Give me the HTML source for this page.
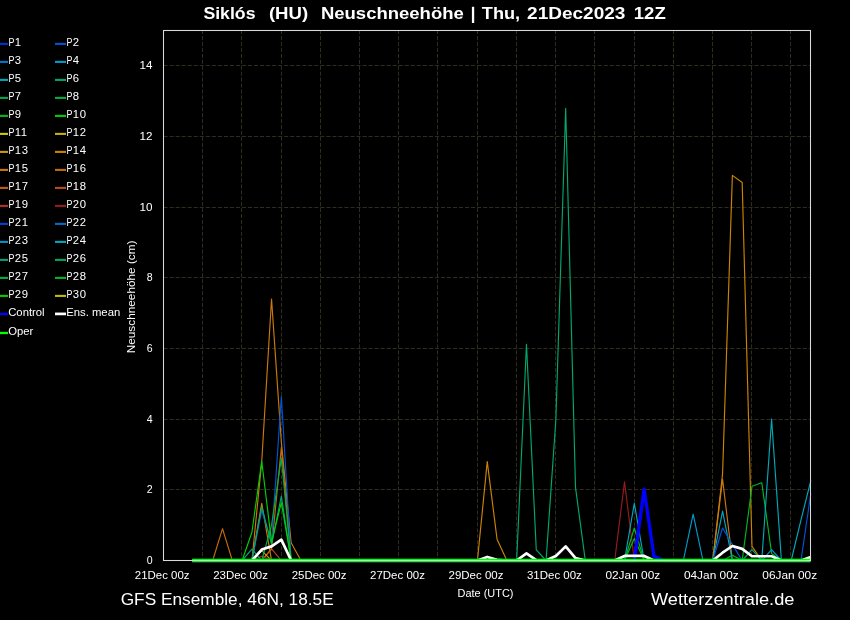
<!DOCTYPE html>
<html><head><meta charset="utf-8"><title>Neuschneehoehe</title>
<style>
html,body{margin:0;padding:0;background:#000;}
body{width:850px;height:620px;overflow:hidden;}
svg{display:block;will-change:transform;transform:translateZ(0);}
text{font-family:"Liberation Sans",sans-serif;fill:#fff;}
</style></head><body>
<svg width="850" height="620" viewBox="0 0 850 620">
<rect x="0" y="0" width="850" height="620" fill="#000"/>

<g stroke="#2e2c1e" stroke-width="1" stroke-dasharray="4.2 1.83" fill="none">
<line x1="202.50" y1="560.5" x2="202.50" y2="30.5" stroke-dasharray="4.13 1.8" stroke-dashoffset="1.5"/>
<line x1="241.50" y1="560.5" x2="241.50" y2="30.5" stroke-dasharray="4.13 1.8" stroke-dashoffset="1.5"/>
<line x1="281.50" y1="560.5" x2="281.50" y2="30.5" stroke-dasharray="4.13 1.8" stroke-dashoffset="1.5"/>
<line x1="320.50" y1="560.5" x2="320.50" y2="30.5" stroke-dasharray="4.13 1.8" stroke-dashoffset="1.5"/>
<line x1="359.50" y1="560.5" x2="359.50" y2="30.5" stroke-dasharray="4.13 1.8" stroke-dashoffset="1.5"/>
<line x1="398.50" y1="560.5" x2="398.50" y2="30.5" stroke-dasharray="4.13 1.8" stroke-dashoffset="1.5"/>
<line x1="437.50" y1="560.5" x2="437.50" y2="30.5" stroke-dasharray="4.13 1.8" stroke-dashoffset="1.5"/>
<line x1="477.50" y1="560.5" x2="477.50" y2="30.5" stroke-dasharray="4.13 1.8" stroke-dashoffset="1.5"/>
<line x1="516.50" y1="560.5" x2="516.50" y2="30.5" stroke-dasharray="4.13 1.8" stroke-dashoffset="1.5"/>
<line x1="555.50" y1="560.5" x2="555.50" y2="30.5" stroke-dasharray="4.13 1.8" stroke-dashoffset="1.5"/>
<line x1="594.50" y1="560.5" x2="594.50" y2="30.5" stroke-dasharray="4.13 1.8" stroke-dashoffset="1.5"/>
<line x1="634.50" y1="560.5" x2="634.50" y2="30.5" stroke-dasharray="4.13 1.8" stroke-dashoffset="1.5"/>
<line x1="673.50" y1="560.5" x2="673.50" y2="30.5" stroke-dasharray="4.13 1.8" stroke-dashoffset="1.5"/>
<line x1="712.50" y1="560.5" x2="712.50" y2="30.5" stroke-dasharray="4.13 1.8" stroke-dashoffset="1.5"/>
<line x1="751.50" y1="560.5" x2="751.50" y2="30.5" stroke-dasharray="4.13 1.8" stroke-dashoffset="1.5"/>
<line x1="790.50" y1="560.5" x2="790.50" y2="30.5" stroke-dasharray="4.13 1.8" stroke-dashoffset="1.5"/>
<line x1="163.5" y1="489.50" x2="810.5" y2="489.50"/>
<line x1="163.5" y1="419.50" x2="810.5" y2="419.50"/>
<line x1="163.5" y1="348.50" x2="810.5" y2="348.50"/>
<line x1="163.5" y1="277.50" x2="810.5" y2="277.50"/>
<line x1="163.5" y1="207.50" x2="810.5" y2="207.50"/>
<line x1="163.5" y1="136.50" x2="810.5" y2="136.50"/>
<line x1="163.5" y1="65.50" x2="810.5" y2="65.50"/>
</g>
<g fill="none" stroke-width="1.15" stroke-linejoin="round">
<polyline stroke="#c46c0c" points="212.71,560.50 222.51,528.70 232.32,560.50"/>
<polyline stroke="#cc780c" points="251.93,560.50 261.74,461.57 271.54,299.04 281.35,442.13 291.15,542.83 300.95,560.50"/>
<polyline stroke="#cc8400" points="251.93,560.50 261.74,503.26 271.54,560.50"/>
<polyline stroke="#bc4820" points="261.74,560.50 271.54,548.84 281.35,560.50"/>
<polyline stroke="#c46c0c" points="261.74,560.50 271.54,548.84 281.35,447.43 291.15,560.50"/>
<polyline stroke="#ca9a0c" points="251.93,560.50 261.74,550.61 271.54,560.50"/>
<polyline stroke="#b43020" points="251.93,560.50 261.74,556.26 271.54,560.50"/>
<polyline stroke="#0054d6" points="251.93,560.50 261.74,510.33 271.54,542.13 281.35,396.55 291.15,560.50"/>
<polyline stroke="#00a47c" points="242.12,560.50 251.93,549.19 261.74,560.50"/>
<polyline stroke="#00a86c" points="251.93,560.50 261.74,506.79 271.54,544.60 281.35,496.19 291.15,560.50"/>
<polyline stroke="#00b040" points="261.74,560.50 271.54,525.17 281.35,458.03 291.15,560.50"/>
<polyline stroke="#00d000" points="242.12,560.50 251.93,532.23 261.74,461.21 271.54,542.13 281.35,502.55 291.15,560.50"/>
<polyline stroke="#cc8400" points="477.44,560.50 487.25,461.57 497.05,539.30 506.86,560.50"/>
<polyline stroke="#00a86c" points="516.66,560.50 526.47,344.26 536.27,549.90 546.08,560.50 555.88,419.17 565.69,108.24 575.50,487.36 585.30,560.50"/>
<polyline stroke="#981c1c" points="614.72,560.50 624.52,481.71 634.32,560.50"/>
<polyline stroke="#00a8c0" points="624.52,560.50 634.32,503.26 644.13,560.50"/>
<polyline stroke="#00b820" points="624.52,560.50 634.32,527.99 644.13,560.50"/>
<polyline stroke="#00b828" points="624.52,560.50 634.32,538.59 644.13,560.50"/>
<polyline stroke="#009ccc" points="683.35,560.50 693.15,514.21 702.96,560.50"/>
<polyline stroke="#cc8400" points="712.76,560.50 722.57,473.93 732.38,175.37 742.18,182.44 751.99,546.37 761.79,560.50"/>
<polyline stroke="#cc780c" points="712.76,560.50 722.57,479.23 732.38,560.50"/>
<polyline stroke="#00a8c0" points="712.76,560.50 722.57,511.03 732.38,560.50"/>
<polyline stroke="#0054d6" points="712.76,560.50 722.57,527.99 732.38,544.60 742.18,560.50"/>
<polyline stroke="#00b820" points="722.57,560.50 732.38,555.20 742.18,560.50"/>
<polyline stroke="#00a47c" points="742.18,560.50 751.99,549.55 761.79,560.50"/>
<polyline stroke="#00b820" points="742.18,560.50 751.99,486.30 761.79,482.77 771.60,553.43 781.40,560.50"/>
<polyline stroke="#0094cc" points="761.79,560.50 771.60,549.55 781.40,560.50"/>
<polyline stroke="#00a8b8" points="761.79,560.50 771.60,419.17 781.40,560.50"/>
<polyline stroke="#00a8c0" points="791.21,560.50 801.01,519.87 810.82,480.65"/>
<polyline stroke="#0054d6" points="801.01,560.50 810.82,493.37"/>
</g>
<polyline fill="none" stroke="#0000ff" stroke-width="3.3" stroke-linejoin="round" points="193.10,560.50 634.32,560.50 644.13,489.13 653.93,556.26 663.74,560.50 810.82,560.50"/>
<polyline fill="none" stroke="#fff" stroke-width="2.7" stroke-linejoin="round" points="193.10,560.50 251.93,560.50 261.74,549.55 271.54,546.37 281.35,539.65 291.15,560.50 477.44,560.50 487.25,556.97 497.05,559.79 506.86,560.50 516.66,560.50 526.47,553.43 536.27,560.15 546.08,560.50 555.88,555.91 565.69,546.37 575.50,558.03 585.30,560.50 614.72,560.50 624.52,555.91 634.32,555.91 644.13,555.91 653.93,560.50 712.76,560.50 722.57,552.73 732.38,546.01 742.18,548.84 751.99,556.26 761.79,556.26 771.60,556.26 781.40,560.50 801.01,560.50 810.82,556.97"/>
<polyline fill="none" stroke="#00ff00" stroke-width="3.4" points="192.10,560.5 810.5,560.5"/>
<rect x="163.5" y="30.5" width="647.0" height="530.0" fill="none" stroke="#dadada" stroke-width="1.05"/>
<text x="203.4" y="18.9" font-size="17" text-anchor="start" font-weight="bold" textLength="52.1" lengthAdjust="spacingAndGlyphs">Siklós</text>
<text x="268.9" y="18.9" font-size="17" text-anchor="start" font-weight="bold" textLength="39.3" lengthAdjust="spacingAndGlyphs">(HU)</text>
<text x="320.9" y="18.9" font-size="17" text-anchor="start" font-weight="bold" textLength="142.9" lengthAdjust="spacingAndGlyphs">Neuschneehöhe</text>
<text x="481.8" y="18.9" font-size="17" text-anchor="start" font-weight="bold" textLength="38.3" lengthAdjust="spacingAndGlyphs">Thu,</text>
<text x="527.1" y="18.9" font-size="17" text-anchor="start" font-weight="bold" textLength="98.3" lengthAdjust="spacingAndGlyphs">21Dec2023</text>
<text x="633.8" y="18.9" font-size="17" text-anchor="start" font-weight="bold" textLength="31.9" lengthAdjust="spacingAndGlyphs">12Z</text>
<rect x="471.9" y="6.8" width="2.3" height="16.2" fill="#fff"/>
<text x="120.7" y="604.8" font-size="17" text-anchor="start" font-weight="normal" textLength="213.0" lengthAdjust="spacingAndGlyphs">GFS Ensemble, 46N, 18.5E</text>
<text x="651.0" y="604.8" font-size="17" text-anchor="start" font-weight="normal" textLength="143.4" lengthAdjust="spacingAndGlyphs">Wetterzentrale.de</text>
<text x="134.8" y="578.8" font-size="11.3" text-anchor="start" font-weight="normal" textLength="54.8" lengthAdjust="spacingAndGlyphs">21Dec 00z</text>
<text x="213.2" y="578.8" font-size="11.3" text-anchor="start" font-weight="normal" textLength="54.8" lengthAdjust="spacingAndGlyphs">23Dec 00z</text>
<text x="291.7" y="578.8" font-size="11.3" text-anchor="start" font-weight="normal" textLength="54.8" lengthAdjust="spacingAndGlyphs">25Dec 00z</text>
<text x="370.1" y="578.8" font-size="11.3" text-anchor="start" font-weight="normal" textLength="54.8" lengthAdjust="spacingAndGlyphs">27Dec 00z</text>
<text x="448.6" y="578.8" font-size="11.3" text-anchor="start" font-weight="normal" textLength="54.8" lengthAdjust="spacingAndGlyphs">29Dec 00z</text>
<text x="527.0" y="578.8" font-size="11.3" text-anchor="start" font-weight="normal" textLength="54.8" lengthAdjust="spacingAndGlyphs">31Dec 00z</text>
<text x="605.4" y="578.8" font-size="11.3" text-anchor="start" font-weight="normal" textLength="54.8" lengthAdjust="spacingAndGlyphs">02Jan 00z</text>
<text x="683.9" y="578.8" font-size="11.3" text-anchor="start" font-weight="normal" textLength="54.8" lengthAdjust="spacingAndGlyphs">04Jan 00z</text>
<text x="762.3" y="578.8" font-size="11.3" text-anchor="start" font-weight="normal" textLength="54.8" lengthAdjust="spacingAndGlyphs">06Jan 00z</text>
<text x="457.6" y="596.7" font-size="11.3" text-anchor="start" font-weight="normal" textLength="55.9" lengthAdjust="spacingAndGlyphs">Date (UTC)</text>
<text x="146.7" y="563.8" font-size="11.3" text-anchor="start" font-weight="normal" textLength="5.9" lengthAdjust="spacingAndGlyphs">0</text>
<text x="146.7" y="493.1" font-size="11.3" text-anchor="start" font-weight="normal" textLength="5.9" lengthAdjust="spacingAndGlyphs">2</text>
<text x="146.7" y="422.5" font-size="11.3" text-anchor="start" font-weight="normal" textLength="5.9" lengthAdjust="spacingAndGlyphs">4</text>
<text x="146.7" y="351.8" font-size="11.3" text-anchor="start" font-weight="normal" textLength="5.9" lengthAdjust="spacingAndGlyphs">6</text>
<text x="146.7" y="281.1" font-size="11.3" text-anchor="start" font-weight="normal" textLength="5.9" lengthAdjust="spacingAndGlyphs">8</text>
<text x="139.6" y="210.5" font-size="11.3" text-anchor="start" font-weight="normal" textLength="13.0" lengthAdjust="spacingAndGlyphs">10</text>
<text x="139.6" y="139.8" font-size="11.3" text-anchor="start" font-weight="normal" textLength="13.0" lengthAdjust="spacingAndGlyphs">12</text>
<text x="139.6" y="69.1" font-size="11.3" text-anchor="start" font-weight="normal" textLength="13.0" lengthAdjust="spacingAndGlyphs">14</text>
<text transform="translate(135.1,353.3) rotate(-90)" font-size="11.3" textLength="112.8" lengthAdjust="spacingAndGlyphs">Neuschneehöhe (cm)</text>
<line x1="-3" y1="43.9" x2="8.0" y2="43.9" stroke="#0030d0" stroke-width="2.1"/>
<text transform="translate(8.40,46.00) scale(0.79,1)" font-size="11.3" text-anchor="start" font-weight="normal">P</text>
<text transform="translate(14.80,46.00) scale(1.0,1)" font-size="11.3" text-anchor="start" font-weight="normal" letter-spacing="0.62">1</text>
<line x1="55.0" y1="43.9" x2="66.0" y2="43.9" stroke="#0054d6" stroke-width="2.1"/>
<text transform="translate(66.40,46.00) scale(0.79,1)" font-size="11.3" text-anchor="start" font-weight="normal">P</text>
<text transform="translate(72.80,46.00) scale(1.0,1)" font-size="11.3" text-anchor="start" font-weight="normal" letter-spacing="0.62">2</text>
<line x1="-3" y1="61.9" x2="8.0" y2="61.9" stroke="#0074d0" stroke-width="2.1"/>
<text transform="translate(8.40,64.00) scale(0.79,1)" font-size="11.3" text-anchor="start" font-weight="normal">P</text>
<text transform="translate(14.80,64.00) scale(1.0,1)" font-size="11.3" text-anchor="start" font-weight="normal" letter-spacing="0.62">3</text>
<line x1="55.0" y1="61.9" x2="66.0" y2="61.9" stroke="#009ccc" stroke-width="2.1"/>
<text transform="translate(66.40,64.00) scale(0.79,1)" font-size="11.3" text-anchor="start" font-weight="normal">P</text>
<text transform="translate(72.80,64.00) scale(1.0,1)" font-size="11.3" text-anchor="start" font-weight="normal" letter-spacing="0.62">4</text>
<line x1="-3" y1="79.9" x2="8.0" y2="79.9" stroke="#00a8b8" stroke-width="2.1"/>
<text transform="translate(8.40,82.00) scale(0.79,1)" font-size="11.3" text-anchor="start" font-weight="normal">P</text>
<text transform="translate(14.80,82.00) scale(1.0,1)" font-size="11.3" text-anchor="start" font-weight="normal" letter-spacing="0.62">5</text>
<line x1="55.0" y1="79.9" x2="66.0" y2="79.9" stroke="#00a86c" stroke-width="2.1"/>
<text transform="translate(66.40,82.00) scale(0.79,1)" font-size="11.3" text-anchor="start" font-weight="normal">P</text>
<text transform="translate(72.80,82.00) scale(1.0,1)" font-size="11.3" text-anchor="start" font-weight="normal" letter-spacing="0.62">6</text>
<line x1="-3" y1="97.9" x2="8.0" y2="97.9" stroke="#00a850" stroke-width="2.1"/>
<text transform="translate(8.40,100.00) scale(0.79,1)" font-size="11.3" text-anchor="start" font-weight="normal">P</text>
<text transform="translate(14.80,100.00) scale(1.0,1)" font-size="11.3" text-anchor="start" font-weight="normal" letter-spacing="0.62">7</text>
<line x1="55.0" y1="97.9" x2="66.0" y2="97.9" stroke="#00b040" stroke-width="2.1"/>
<text transform="translate(66.40,100.00) scale(0.79,1)" font-size="11.3" text-anchor="start" font-weight="normal">P</text>
<text transform="translate(72.80,100.00) scale(1.0,1)" font-size="11.3" text-anchor="start" font-weight="normal" letter-spacing="0.62">8</text>
<line x1="-3" y1="115.9" x2="8.0" y2="115.9" stroke="#00b820" stroke-width="2.1"/>
<text transform="translate(8.40,118.00) scale(0.79,1)" font-size="11.3" text-anchor="start" font-weight="normal">P</text>
<text transform="translate(14.80,118.00) scale(1.0,1)" font-size="11.3" text-anchor="start" font-weight="normal" letter-spacing="0.62">9</text>
<line x1="55.0" y1="115.9" x2="66.0" y2="115.9" stroke="#00d000" stroke-width="2.1"/>
<text transform="translate(66.40,118.00) scale(0.79,1)" font-size="11.3" text-anchor="start" font-weight="normal">P</text>
<text transform="translate(72.80,118.00) scale(1.0,1)" font-size="11.3" text-anchor="start" font-weight="normal" letter-spacing="0.62">10</text>
<line x1="-3" y1="133.9" x2="8.0" y2="133.9" stroke="#cccc00" stroke-width="2.1"/>
<text transform="translate(8.40,136.00) scale(0.79,1)" font-size="11.3" text-anchor="start" font-weight="normal">P</text>
<text transform="translate(14.80,136.00) scale(1.0,1)" font-size="11.3" text-anchor="start" font-weight="normal" letter-spacing="0.62">11</text>
<line x1="55.0" y1="133.9" x2="66.0" y2="133.9" stroke="#caae0c" stroke-width="2.1"/>
<text transform="translate(66.40,136.00) scale(0.79,1)" font-size="11.3" text-anchor="start" font-weight="normal">P</text>
<text transform="translate(72.80,136.00) scale(1.0,1)" font-size="11.3" text-anchor="start" font-weight="normal" letter-spacing="0.62">12</text>
<line x1="-3" y1="151.9" x2="8.0" y2="151.9" stroke="#ca9a0c" stroke-width="2.1"/>
<text transform="translate(8.40,154.00) scale(0.79,1)" font-size="11.3" text-anchor="start" font-weight="normal">P</text>
<text transform="translate(14.80,154.00) scale(1.0,1)" font-size="11.3" text-anchor="start" font-weight="normal" letter-spacing="0.62">13</text>
<line x1="55.0" y1="151.9" x2="66.0" y2="151.9" stroke="#cc8400" stroke-width="2.1"/>
<text transform="translate(66.40,154.00) scale(0.79,1)" font-size="11.3" text-anchor="start" font-weight="normal">P</text>
<text transform="translate(72.80,154.00) scale(1.0,1)" font-size="11.3" text-anchor="start" font-weight="normal" letter-spacing="0.62">14</text>
<line x1="-3" y1="169.9" x2="8.0" y2="169.9" stroke="#cc780c" stroke-width="2.1"/>
<text transform="translate(8.40,172.00) scale(0.79,1)" font-size="11.3" text-anchor="start" font-weight="normal">P</text>
<text transform="translate(14.80,172.00) scale(1.0,1)" font-size="11.3" text-anchor="start" font-weight="normal" letter-spacing="0.62">15</text>
<line x1="55.0" y1="169.9" x2="66.0" y2="169.9" stroke="#c46c0c" stroke-width="2.1"/>
<text transform="translate(66.40,172.00) scale(0.79,1)" font-size="11.3" text-anchor="start" font-weight="normal">P</text>
<text transform="translate(72.80,172.00) scale(1.0,1)" font-size="11.3" text-anchor="start" font-weight="normal" letter-spacing="0.62">16</text>
<line x1="-3" y1="187.9" x2="8.0" y2="187.9" stroke="#c45c10" stroke-width="2.1"/>
<text transform="translate(8.40,190.00) scale(0.79,1)" font-size="11.3" text-anchor="start" font-weight="normal">P</text>
<text transform="translate(14.80,190.00) scale(1.0,1)" font-size="11.3" text-anchor="start" font-weight="normal" letter-spacing="0.62">17</text>
<line x1="55.0" y1="187.9" x2="66.0" y2="187.9" stroke="#bc4820" stroke-width="2.1"/>
<text transform="translate(66.40,190.00) scale(0.79,1)" font-size="11.3" text-anchor="start" font-weight="normal">P</text>
<text transform="translate(72.80,190.00) scale(1.0,1)" font-size="11.3" text-anchor="start" font-weight="normal" letter-spacing="0.62">18</text>
<line x1="-3" y1="205.9" x2="8.0" y2="205.9" stroke="#b43020" stroke-width="2.1"/>
<text transform="translate(8.40,208.00) scale(0.79,1)" font-size="11.3" text-anchor="start" font-weight="normal">P</text>
<text transform="translate(14.80,208.00) scale(1.0,1)" font-size="11.3" text-anchor="start" font-weight="normal" letter-spacing="0.62">19</text>
<line x1="55.0" y1="205.9" x2="66.0" y2="205.9" stroke="#981c1c" stroke-width="2.1"/>
<text transform="translate(66.40,208.00) scale(0.79,1)" font-size="11.3" text-anchor="start" font-weight="normal">P</text>
<text transform="translate(72.80,208.00) scale(1.0,1)" font-size="11.3" text-anchor="start" font-weight="normal" letter-spacing="0.62">20</text>
<line x1="-3" y1="223.9" x2="8.0" y2="223.9" stroke="#0040dc" stroke-width="2.1"/>
<text transform="translate(8.40,226.00) scale(0.79,1)" font-size="11.3" text-anchor="start" font-weight="normal">P</text>
<text transform="translate(14.80,226.00) scale(1.0,1)" font-size="11.3" text-anchor="start" font-weight="normal" letter-spacing="0.62">21</text>
<line x1="55.0" y1="223.9" x2="66.0" y2="223.9" stroke="#006cd0" stroke-width="2.1"/>
<text transform="translate(66.40,226.00) scale(0.79,1)" font-size="11.3" text-anchor="start" font-weight="normal">P</text>
<text transform="translate(72.80,226.00) scale(1.0,1)" font-size="11.3" text-anchor="start" font-weight="normal" letter-spacing="0.62">22</text>
<line x1="-3" y1="241.9" x2="8.0" y2="241.9" stroke="#0094cc" stroke-width="2.1"/>
<text transform="translate(8.40,244.00) scale(0.79,1)" font-size="11.3" text-anchor="start" font-weight="normal">P</text>
<text transform="translate(14.80,244.00) scale(1.0,1)" font-size="11.3" text-anchor="start" font-weight="normal" letter-spacing="0.62">23</text>
<line x1="55.0" y1="241.9" x2="66.0" y2="241.9" stroke="#00a8c0" stroke-width="2.1"/>
<text transform="translate(66.40,244.00) scale(0.79,1)" font-size="11.3" text-anchor="start" font-weight="normal">P</text>
<text transform="translate(72.80,244.00) scale(1.0,1)" font-size="11.3" text-anchor="start" font-weight="normal" letter-spacing="0.62">24</text>
<line x1="-3" y1="259.9" x2="8.0" y2="259.9" stroke="#00a47c" stroke-width="2.1"/>
<text transform="translate(8.40,262.00) scale(0.79,1)" font-size="11.3" text-anchor="start" font-weight="normal">P</text>
<text transform="translate(14.80,262.00) scale(1.0,1)" font-size="11.3" text-anchor="start" font-weight="normal" letter-spacing="0.62">25</text>
<line x1="55.0" y1="259.9" x2="66.0" y2="259.9" stroke="#00a858" stroke-width="2.1"/>
<text transform="translate(66.40,262.00) scale(0.79,1)" font-size="11.3" text-anchor="start" font-weight="normal">P</text>
<text transform="translate(72.80,262.00) scale(1.0,1)" font-size="11.3" text-anchor="start" font-weight="normal" letter-spacing="0.62">26</text>
<line x1="-3" y1="277.9" x2="8.0" y2="277.9" stroke="#00b040" stroke-width="2.1"/>
<text transform="translate(8.40,280.00) scale(0.79,1)" font-size="11.3" text-anchor="start" font-weight="normal">P</text>
<text transform="translate(14.80,280.00) scale(1.0,1)" font-size="11.3" text-anchor="start" font-weight="normal" letter-spacing="0.62">27</text>
<line x1="55.0" y1="277.9" x2="66.0" y2="277.9" stroke="#00b828" stroke-width="2.1"/>
<text transform="translate(66.40,280.00) scale(0.79,1)" font-size="11.3" text-anchor="start" font-weight="normal">P</text>
<text transform="translate(72.80,280.00) scale(1.0,1)" font-size="11.3" text-anchor="start" font-weight="normal" letter-spacing="0.62">28</text>
<line x1="-3" y1="295.9" x2="8.0" y2="295.9" stroke="#00cc00" stroke-width="2.1"/>
<text transform="translate(8.40,298.00) scale(0.79,1)" font-size="11.3" text-anchor="start" font-weight="normal">P</text>
<text transform="translate(14.80,298.00) scale(1.0,1)" font-size="11.3" text-anchor="start" font-weight="normal" letter-spacing="0.62">29</text>
<line x1="55.0" y1="295.9" x2="66.0" y2="295.9" stroke="#c4bc00" stroke-width="2.1"/>
<text transform="translate(66.40,298.00) scale(0.79,1)" font-size="11.3" text-anchor="start" font-weight="normal">P</text>
<text transform="translate(72.80,298.00) scale(1.0,1)" font-size="11.3" text-anchor="start" font-weight="normal" letter-spacing="0.62">30</text>
<line x1="-3" y1="313.9" x2="8.0" y2="313.9" stroke="#0000ff" stroke-width="2.3"/>
<text transform="translate(8.20,316.00) scale(1.0,1)" font-size="11.3" text-anchor="start" font-weight="normal">Control</text>
<line x1="55.0" y1="313.9" x2="66.0" y2="313.9" stroke="#ffffff" stroke-width="2.7"/>
<text transform="translate(66.20,316.00) scale(1.0,1)" font-size="11.3" text-anchor="start" font-weight="normal">Ens. mean</text>
<line x1="-3" y1="333.0" x2="8.0" y2="333.0" stroke="#00ff00" stroke-width="2.3"/>
<text transform="translate(8.20,335.10) scale(1.0,1)" font-size="11.3" text-anchor="start" font-weight="normal">Oper</text>
</svg>
</body></html>
